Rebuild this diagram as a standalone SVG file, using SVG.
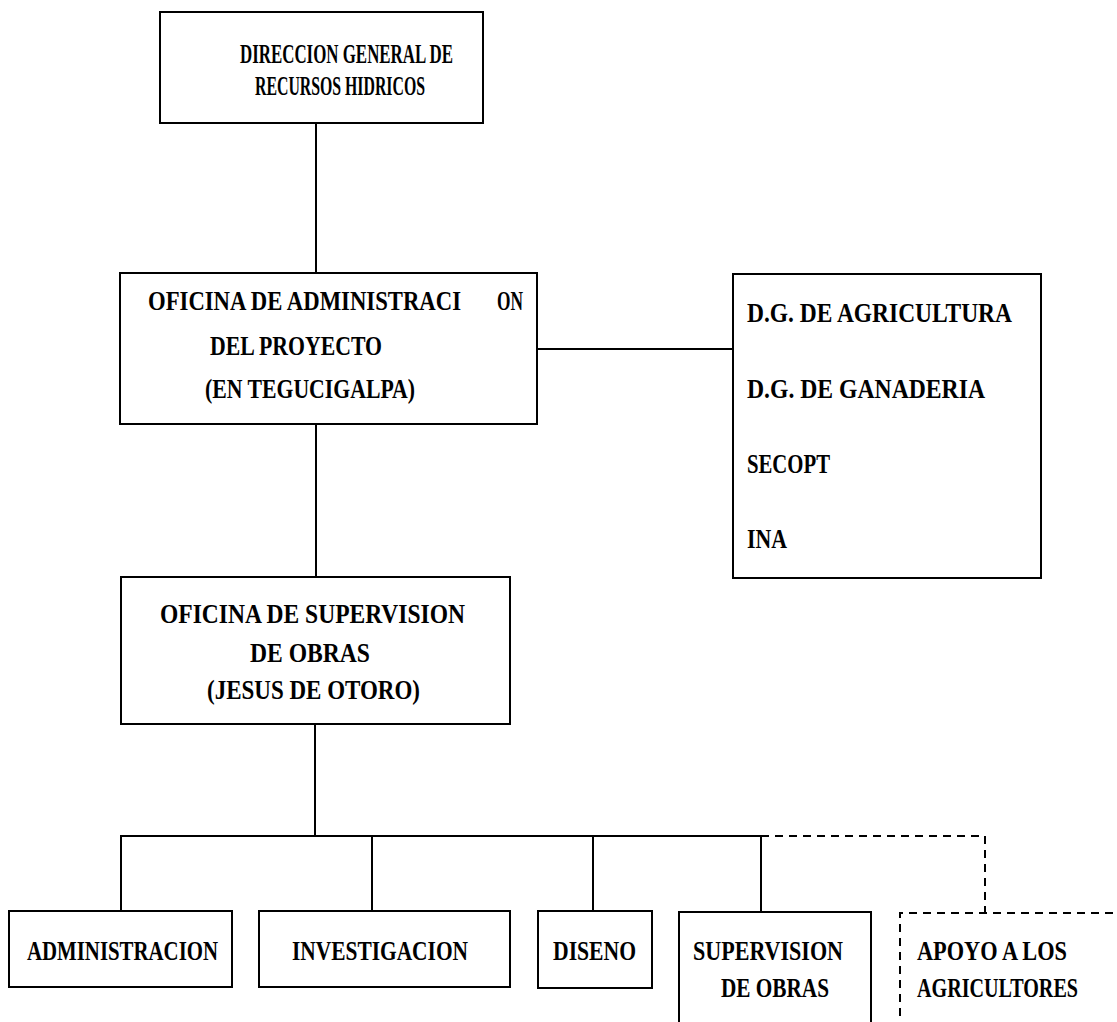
<svg xmlns="http://www.w3.org/2000/svg" width="1117" height="1022" viewBox="0 0 1117 1022">
<style>
.box{fill:none;stroke:#000;stroke-width:2}
.dbox{fill:none;stroke:#000;stroke-width:2;stroke-dasharray:8 6}
.ln{fill:none;stroke:#000;stroke-width:2}
.dl{fill:none;stroke:#000;stroke-width:2;stroke-dasharray:8 6}
text{font-family:"Liberation Serif","DejaVu Serif",serif;font-size:27px;font-weight:bold;fill:#000}
</style>
<rect width="1117" height="1022" fill="#fff"/>
<g id="connectors">
<line class="ln" x1="316" y1="123" x2="316" y2="273"/>
<line class="ln" x1="316" y1="424" x2="316" y2="577"/>
<line class="ln" x1="537" y1="349" x2="733" y2="349"/>
<line class="ln" x1="315" y1="724" x2="315" y2="836"/>
<polyline class="ln" points="121,911 121,836 761,836"/>
<line class="ln" x1="372" y1="836" x2="372" y2="911"/>
<line class="ln" x1="593" y1="836" x2="593" y2="911"/>
<line class="ln" x1="761" y1="836" x2="761" y2="912"/>
<polyline class="dl" points="761,836 985,836 985,913"/>
</g>
<g id="n-direccion">
<rect class="box" x="160" y="12" width="323" height="111"/>
<text x="240" y="63" textLength="213" lengthAdjust="spacingAndGlyphs">DIRECCION GENERAL DE</text>
<text x="255" y="95" textLength="170" lengthAdjust="spacingAndGlyphs">RECURSOS HIDRICOS</text>
</g>
<g id="n-oficina-admin">
<rect class="box" x="120" y="273" width="417" height="151"/>
<text x="148" y="310"><tspan textLength="313" lengthAdjust="spacingAndGlyphs">OFICINA DE ADMINISTRACI</tspan><tspan x="497" textLength="26" lengthAdjust="spacingAndGlyphs">ON</tspan></text>
<text x="210" y="355" textLength="172" lengthAdjust="spacingAndGlyphs">DEL PROYECTO</text>
<text x="205" y="398" textLength="210" lengthAdjust="spacingAndGlyphs">(EN TEGUCIGALPA)</text>
</g>
<g id="n-dg">
<rect class="box" x="733" y="274" width="308" height="304"/>
<text x="747" y="322" textLength="265" lengthAdjust="spacingAndGlyphs">D.G. DE AGRICULTURA</text>
<text x="747" y="398" textLength="238" lengthAdjust="spacingAndGlyphs">D.G. DE GANADERIA</text>
<text x="747" y="473" textLength="83" lengthAdjust="spacingAndGlyphs">SECOPT</text>
<text x="747" y="548" textLength="40" lengthAdjust="spacingAndGlyphs">INA</text>
</g>
<g id="n-oficina-sup">
<rect class="box" x="121" y="577" width="389" height="147"/>
<text x="160" y="623" textLength="305" lengthAdjust="spacingAndGlyphs">OFICINA DE SUPERVISION</text>
<text x="250" y="662" textLength="120" lengthAdjust="spacingAndGlyphs">DE OBRAS</text>
<text x="207" y="699" textLength="213" lengthAdjust="spacingAndGlyphs">(JESUS DE OTORO)</text>
</g>
<g id="n-administracion">
<rect class="box" x="9" y="911" width="223" height="76"/>
<text x="27" y="960" textLength="191" lengthAdjust="spacingAndGlyphs">ADMINISTRACION</text>
</g>
<g id="n-investigacion">
<rect class="box" x="259" y="911" width="251" height="76"/>
<text x="292" y="960" textLength="176" lengthAdjust="spacingAndGlyphs">INVESTIGACION</text>
</g>
<g id="n-diseno">
<rect class="box" x="538" y="911" width="114" height="77"/>
<text x="553" y="960" textLength="83" lengthAdjust="spacingAndGlyphs">DISENO</text>
</g>
<g id="n-supervision">
<path class="box" d="M679,1030 V912 H871 V1030"/>
<text x="693" y="960" textLength="150" lengthAdjust="spacingAndGlyphs">SUPERVISION</text>
<text x="721" y="997" textLength="108" lengthAdjust="spacingAndGlyphs">DE OBRAS</text>
</g>
<g id="n-apoyo">
<path class="dbox" d="M900,1030 V913 H1125"/>
<text x="917" y="960" textLength="150" lengthAdjust="spacingAndGlyphs">APOYO A LOS</text>
<text x="917" y="997" textLength="161" lengthAdjust="spacingAndGlyphs">AGRICULTORES</text>
</g>
</svg>
